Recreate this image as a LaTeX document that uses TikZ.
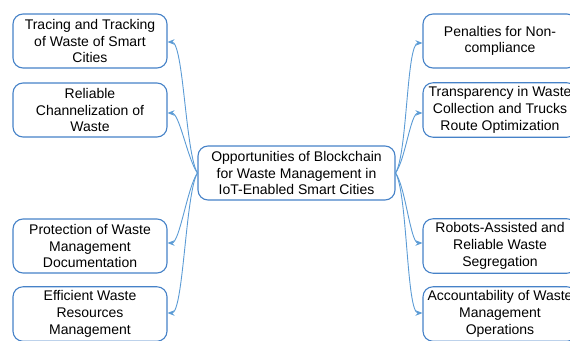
\documentclass[tikz,border=0pt]{standalone}
\usepackage{fontspec}
\setmainfont{Liberation Sans}
\usetikzlibrary{arrows.meta}
\definecolor{boxblue}{RGB}{70,130,200}
\definecolor{arrblue}{RGB}{91,155,213}
\begin{document}
\begin{tikzpicture}[x=1pt,y=-1pt,
  box/.style={draw=boxblue, line width=1.1pt, rounded corners=10pt, fill=white,
    inner sep=4pt, minimum width=154pt, minimum height=54pt,
    align=center, font=\fontsize{14}{16.7}\selectfont},
  cbox/.style={box, minimum width=197pt},
  arr/.style={draw=arrblue, line width=0.9pt, -{Stealth[length=7pt,width=5.5pt]}}]
\useasboundingbox (0,0) rectangle (570,340);
\clip (0,0) rectangle (570,340);
\node[cbox] (c) at (296.5,173) {Opportunities of Blockchain\\for Waste Management in\\IoT-Enabled Smart Cities};
\node[box] (l1) at (90,41) {Tracing and Tracking\\of Waste of Smart\\Cities};
\node[box] (l2) at (90,110) {Reliable\\Channelization of\\Waste};
\node[box] (l3) at (90,246) {Protection of Waste\\Management\\Documentation};
\node[box] (l4) at (90,314) {Efficient Waste\\Resources\\Management};
\node[box] (r1) at (500,41) {Penalties for Non-\\compliance};
\node[box] (r2) at (500,110) {Transparency in Waste\\Collection and Trucks\\Route Optimization};
\node[box] (r3) at (500,246) {Robots-Assisted and\\Reliable Waste\\Segregation};
\node[box] (r4) at (500,314) {Accountability of Waste\\Management\\Operations};
\coordinate (l1e) at ([yshift=-1pt]l1.east);
\coordinate (l2e) at ([yshift=-3pt]l2.east);
\coordinate (l3e) at ([yshift=3pt]l3.east);
\coordinate (l4e) at ([yshift=1pt]l4.east);
\coordinate (r1e) at ([yshift=-2pt]r1.west);
\coordinate (r2e) at ([yshift=-3pt]r2.west);
\coordinate (r3e) at ([yshift=3pt]r3.west);
\coordinate (r4e) at ([yshift=1pt]r4.west);
\draw[arr] (c.west) .. controls +(-12,-20) and +(16,0) .. (l1e);
\draw[arr] (c.west) .. controls +(-10,-14) and +(12,0) .. (l2e);
\draw[arr] (c.west) .. controls +(-10,14) and +(12,0) .. (l3e);
\draw[arr] (c.west) .. controls +(-12,20) and +(16,0) .. (l4e);
\draw[arr] (c.east) .. controls +(12,-20) and +(-16,0) .. (r1e);
\draw[arr] (c.east) .. controls +(10,-14) and +(-12,0) .. (r2e);
\draw[arr] (c.east) .. controls +(10,14) and +(-12,0) .. (r3e);
\draw[arr] (c.east) .. controls +(12,20) and +(-16,0) .. (r4e);
\end{tikzpicture}
\end{document}
